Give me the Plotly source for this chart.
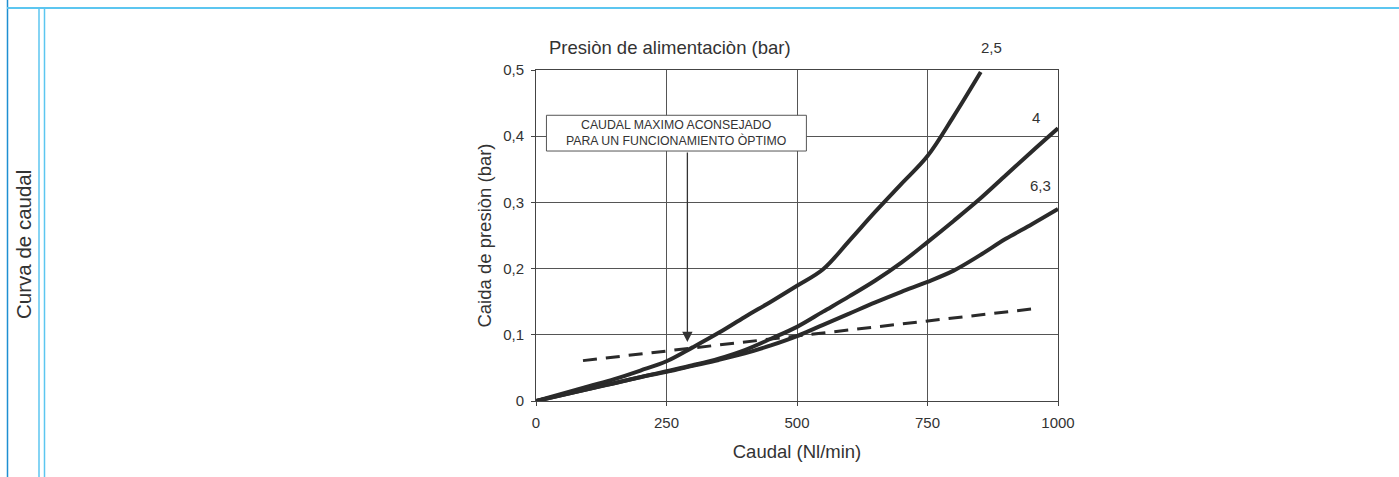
import plotly.graph_objects as go

# Flow curves: pressure drop (bar) versus flow (Nl/min) for each supply pressure
flow_25 = [0, 100, 150, 200, 250, 300, 350, 400, 450, 500, 550, 600, 650, 700, 750, 800, 852]
drop_25 = [0, 0.022, 0.033, 0.046, 0.06, 0.081, 0.103, 0.127, 0.15, 0.174, 0.199, 0.242, 0.286, 0.328, 0.37, 0.43, 0.497]

flow_4 = [0, 100, 200, 250, 300, 350, 400, 450, 500, 550, 600, 650, 700, 750, 800, 850, 900, 950, 1000]
drop_4 = [0, 0.018, 0.036, 0.045, 0.054, 0.064, 0.077, 0.094, 0.112, 0.135, 0.158, 0.182, 0.209, 0.24, 0.272, 0.305, 0.341, 0.377, 0.412]

flow_63 = [0, 100, 200, 250, 300, 350, 400, 450, 500, 550, 600, 650, 700, 750, 800, 850, 900, 950, 1000]
drop_63 = [0, 0.018, 0.036, 0.044, 0.053, 0.062, 0.072, 0.084, 0.098, 0.115, 0.132, 0.149, 0.165, 0.18, 0.197, 0.22, 0.245, 0.267, 0.29]

# Recommended maximum flow limit (dashed)
limit_flow = [90, 950]
limit_drop = [0.061, 0.139]

curve_labels = ["2,5", "4", "6,3"]
x_ticks = [0, 250, 500, 750, 1000]
x_tick_text = ["0", "250", "500", "750", "1000"]
y_ticks = [0, 0.1, 0.2, 0.3, 0.4, 0.5]
y_tick_text = ["0", "0,1", "0,2", "0,3", "0,4", "0,5"]

# Note box and arrow position (data units)
note_x = [20, 518]
note_y = [0.3776, 0.4316]
arrow_x = 290
arrow_tip = 0.089

W, H = 1399, 477
L, R, T, B = 536, 341, 70, 76
FONT = "Arial, 'Liberation Sans', sans-serif"
INK = "#2a2a2a"
TXT = "#333"


def px_x(px):
    return (px - L) / (W - L - R)


def px_y(py):
    return 1 - (py - T) / (H - T - B)


fig = go.Figure()

for fx, dy in ((flow_25, drop_25), (flow_4, drop_4), (flow_63, drop_63)):
    fig.add_trace(go.Scatter(x=fx, y=dy, mode="lines",
                             line=dict(color=INK, width=4, shape="spline", smoothing=1.0),
                             hoverinfo="skip", showlegend=False))

fig.add_trace(go.Scatter(x=limit_flow, y=limit_drop, mode="lines",
                         line=dict(color=INK, width=3, dash="14px,9px"),
                         hoverinfo="skip", showlegend=False))

axis_common = dict(showline=True, linecolor="#444", linewidth=1, mirror=True,
                   showgrid=True, gridcolor="#555", gridwidth=1, zeroline=False,
                   ticks="outside", ticklen=4, tickcolor="#444", ticklabelstandoff=4,
                   tickfont=dict(family=FONT, size=15, color=TXT))

fig.update_xaxes(range=[0, 1000], tickvals=x_ticks, ticktext=x_tick_text,
                 title=dict(text="Caudal (Nl/min)", font=dict(family=FONT, size=18.5, color=TXT), standoff=15),
                 **axis_common)
fig.update_yaxes(range=[0, 0.5], tickvals=y_ticks, ticktext=y_tick_text,
                 title=dict(text="Caida de presiòn (bar)", font=dict(family=FONT, size=18.5, color=TXT), standoff=6),
                 **axis_common)

shapes = [
    # page frame lines
    dict(type="line", xref="paper", yref="paper", x0=px_x(7.5), x1=px_x(7.5), y0=px_y(0), y1=px_y(H),
         line=dict(color="#1e8fd2", width=1.5)),
    dict(type="line", xref="paper", yref="paper", x0=px_x(7), x1=px_x(W), y0=px_y(8), y1=px_y(8),
         line=dict(color="#5cc6f0", width=2)),
    dict(type="line", xref="paper", yref="paper", x0=px_x(39), x1=px_x(39), y0=px_y(8), y1=px_y(H),
         line=dict(color="#5cc6f0", width=1.5)),
    dict(type="line", xref="paper", yref="paper", x0=px_x(44.5), x1=px_x(44.5), y0=px_y(8), y1=px_y(H),
         line=dict(color="#5cc6f0", width=1.5)),
    # note box
    dict(type="rect", xref="x", yref="y", x0=note_x[0], x1=note_x[1], y0=note_y[0], y1=note_y[1],
         fillcolor="white", line=dict(color="#555", width=1), layer="above"),
]


def label(px, py, text, size, angle=0):
    return dict(xref="paper", yref="paper", x=px_x(px), y=px_y(py), text=text, textangle=angle,
                xanchor="center", yanchor="middle", showarrow=False,
                font=dict(family=FONT, size=size, color=TXT))


annotations = [
    dict(xref="x", yref="y", x=sum(note_x) / 2, y=sum(note_y) / 2,
         xanchor="center", yanchor="middle",
         text="CAUDAL MAXIMO ACONSEJADO<br>PARA UN FUNCIONAMIENTO ÒPTIMO",
         showarrow=False, font=dict(family=FONT, size=12.3, color=TXT)),
    dict(xref="x", yref="y", x=arrow_x, y=arrow_tip, ax=arrow_x, ay=note_y[0],
         axref="x", ayref="y", text="", showarrow=True, arrowhead=2, arrowsize=1.6,
         arrowwidth=1.3, arrowcolor=TXT, standoff=0, startstandoff=0),
    label(670, 48, "Presiòn de alimentaciòn (bar)", 18.5),
    label(991, 47, curve_labels[0], 15),
    label(1036, 117, curve_labels[1], 15),
    label(1040, 185, curve_labels[2], 15),
    label(23, 245, "Curva de caudal", 20.5, angle=-90),
]

fig.update_layout(width=W, height=H, margin=dict(l=L, r=R, t=T, b=B, pad=0),
                  paper_bgcolor="white", plot_bgcolor="white",
                  shapes=shapes, annotations=annotations, showlegend=False)

fig.write_html("out.html", config={"displayModeBar": False})
